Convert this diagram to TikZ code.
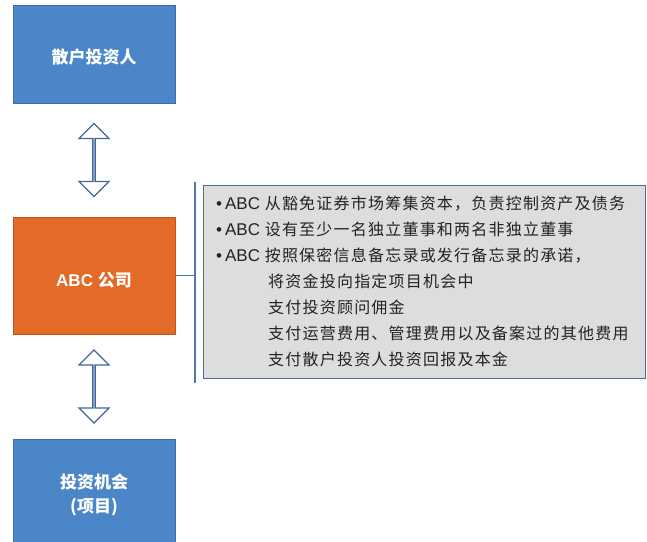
\documentclass[tikz,border=0pt]{standalone}
\usepackage{fontspec}
\setmainfont{Liberation Sans}
\newfontfamily\cjk[LetterSpace=7.6]{Noto Sans CJK SC}
\newfontfamily\cjkbox{Noto Sans CJK SC}
\usetikzlibrary{shapes.arrows,calc}
\definecolor{boxblue}{HTML}{4A86C8}
\definecolor{boxblueedge}{HTML}{3D6EA5}
\definecolor{boxorange}{HTML}{E46A27}
\definecolor{boxorangeedge}{HTML}{B9551E}
\definecolor{infogray}{HTML}{DDDDDD}
\definecolor{infoedge}{HTML}{4A6E9A}
\definecolor{arrowedge}{HTML}{41689A}
\definecolor{linkblue}{HTML}{4E79AE}
\definecolor{infotext}{HTML}{222222}
\newcommand\zh[1]{{\cjk\fontsize{16}{18}\selectfont #1}}
\newcommand\lowered[2]{\raisebox{-#1}[\height][\depth]{#2}}
\tikzset{
  entity/.style={draw=boxblueedge, fill=boxblue, line width=1pt, minimum width=162pt, text=white, font=\cjkbox\bfseries\fontsize{17}{24}\selectfont},
  company/.style={draw=boxorangeedge, fill=boxorange, line width=1pt, minimum width=162pt, minimum height=117pt, text=white, font=\bfseries\fontsize{17}{20}\selectfont},
  dblarrow/.style={double arrow, draw=arrowedge, fill=white, line width=1.3pt, rotate=90, minimum height=73pt, minimum width=30pt, double arrow head extend=8pt, double arrow tip angle=90, inner sep=0pt},
  infobox/.style={draw=infoedge, fill=infogray, line width=1pt},
  link/.style={draw=linkblue, line width=1.2pt},
  infoline/.style={anchor=base west, inner sep=0pt, text=infotext, font=\fontsize{17}{20}\selectfont}
}
\begin{document}
\begin{tikzpicture}[x=1pt,y=-1pt]
\useasboundingbox (0,0) rectangle (647,541);
% boxes
\node[entity, minimum height=98pt] (inv) at (94,54) {\lowered{3pt}{散户投资人}};
\node[company] (abc) at (94,275.5) {\lowered{4.5pt}{ABC \cjkbox 公司}};
\node[entity, minimum height=106pt] (proj) at (94,492) {\lowered{4pt}{\begin{tabular}{@{}c@{}}投资机会\\(项目)\end{tabular}}};
% double arrows
\node[dblarrow] (a1) at ($(inv.south)!0.5!(abc.north)$) {};
\node[dblarrow] (a2) at ($(abc.south)!0.5!(proj.north)$) {};
% info box
\node[infobox, minimum width=442pt, minimum height=193pt] (info) at (424,281.5) {};
% bracket connector
\coordinate (bt) at (195,182);
\coordinate (bb) at (195,383);
\draw[link] (bt) -- (bb);
\draw[link] (abc.east) -- (abc.east -| bt);
% info text
\node[infoline] (l1) at (216,209) {\textbullet\hspace{3pt}ABC \zh{从豁免证券市场筹集资本，负责控制资产及债务}};
\node[infoline] (l2) at (216,235) {\textbullet\hspace{3pt}ABC \zh{设有至少一名独立董事和两名非独立董事}};
\node[infoline] (l3) at (216,261) {\textbullet\hspace{3pt}ABC \zh{按照保密信息备忘录或发行备忘录的承诺，}};
\node[infoline] (l4) at (268,287) {\zh{将资金投向指定项目机会中}};
\node[infoline] (l5) at (268,313) {\zh{支付投资顾问佣金}};
\node[infoline] (l6) at (268,339) {\zh{支付运营费用、管理费用以及备案过的其他费用}};
\node[infoline] (l7) at (268,365) {\zh{支付散户投资人投资回报及本金}};
\end{tikzpicture}
\end{document}
